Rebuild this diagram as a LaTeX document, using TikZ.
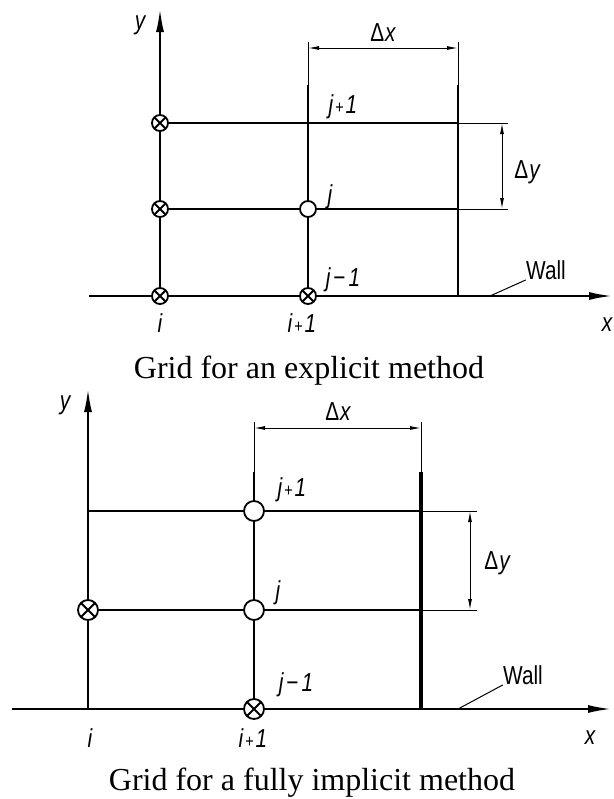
\documentclass[tikz,border=0pt]{standalone}
\usepackage{fontspec}
\setmainfont{Liberation Serif}
\newfontfamily\lettering{Liberation Sans}[FakeStretch=0.8]
\usetikzlibrary{arrows.meta}
\tikzset{
  mesh/.style={line width=1pt},
  wallline/.style={line width=1.7pt},
  axis/.style={line width=1.2pt,-{Latex[length=12pt,width=4pt]}},
  dim/.style={line width=0.5pt,{Latex[length=5.5pt,width=2pt]}-{Latex[length=5.5pt,width=2pt]}},
  ext/.style={line width=0.5pt},
  lbl/.style={font=\lettering\itshape\fontsize{13}{15}\selectfont,inner sep=0pt},
  caption/.style={font=\fontsize{16}{19}\selectfont,inner sep=0pt},
  unknown/.style={circle,draw,line width=0.9pt,fill=white,inner sep=0pt,minimum size=#1},
  unknown/.default=8pt,
  known/.style={unknown=#1,
    path picture={\draw[line width=0.9pt]
      (path picture bounding box.north west) -- (path picture bounding box.south east)
      (path picture bounding box.north east) -- (path picture bounding box.south west);}},
  known/.default=8pt,
}
\newcommand{\dx}{{\upshape Δ}\kern0.5pt x}
\newcommand{\dy}{{\upshape Δ}\kern0.5pt y}
\newcommand{\nplus}[1]{#1\kern1pt{\upshape\small+}\kern1pt1}
\newcommand{\nminus}[1]{#1\kern1.5pt{\upshape −}\kern1.5pt1}
\begin{document}
\begin{tikzpicture}[x=0.5pt,y=-0.5pt]
\useasboundingbox (0,0) rectangle (614,799);

% explicit method
\coordinate (e-xs) at (89,296);
\coordinate (e-xe) at (613,296);
\coordinate (e-yt) at (160,8);
\coordinate (e-00) at (160,296);
\coordinate (e-01) at (160,209);
\coordinate (e-02) at (160,123);
\coordinate (e-10) at (308,296);
\coordinate (e-11) at (308,209);
\coordinate (e-1t) at (308,85);
\coordinate (e-1d) at (308,42);
\coordinate (e-w0) at (458,296);
\coordinate (e-wt) at (458,85);
\coordinate (e-wd) at (458,42);
\coordinate (e-w1) at (458,209);
\coordinate (e-w2) at (458,123);
\coordinate (e-r1) at (508,209);
\coordinate (e-r2) at (508,123);
\coordinate (e-lead) at (490,296);

\draw[axis] (e-xs) -- (e-xe);
\draw[axis] (e-00) -- (e-yt);
\draw[mesh] (e-10) -- (e-1t);
\draw[mesh] (e-w0) -- (e-wt);
\draw[mesh] (e-02) -- (e-w2);
\draw[mesh] (e-01) -- (e-w1);
\draw[ext] (e-1t) -- (e-1d) (e-wt) -- (e-wd);
\draw[ext] (e-w2) -- (e-r2) (e-w1) -- (e-r1);
\draw[dim] ([yshift=-3pt]e-1d) -- ([yshift=-3pt]e-wd);
\draw[dim] ([xshift=-3pt]e-r2) -- ([xshift=-3pt]e-r1);

\node[known] (e-p00) at (e-00) {};
\node[known] (e-p01) at (e-01) {};
\node[known] (e-p02) at (e-02) {};
\node[known] (e-p10) at (e-10) {};
\node[unknown] (e-p11) at (e-11) {};

\node[lbl] (e-ylab) at (140,25) {y};
\node[lbl] (e-xlab) at (607,325) {x};
\node[lbl] (e-i) at (160,323) {i};
\node[lbl] (e-ip) at (302,323) {\nplus{i}};
\node[lbl] (e-jp) at (343,107) {\nplus{j}};
\node[lbl] (e-j) at (330,197) {j};
\node[lbl] (e-jm) at (343,280) {\nminus{j}};
\node[lbl] (e-dx) at (383,33) {\dx};
\node[lbl] (e-dy) at (527,172) {\dy};
\node[lbl,font=\lettering\fontsize{13}{15}\selectfont] (e-wall) at (546,270) {Wall};
\draw[ext] (e-lead) -- (e-wall.south west);

\node[caption] (e-cap) at (309,371) {Grid for an explicit method};

% fully implicit method
\coordinate (f-xs) at (12,709);
\coordinate (f-xe) at (612,709);
\coordinate (f-yt) at (88,388);
\coordinate (f-00) at (88,709);
\coordinate (f-01) at (88,610);
\coordinate (f-02) at (88,511);
\coordinate (f-10) at (254,709);
\coordinate (f-11) at (254,610);
\coordinate (f-12) at (254,511);
\coordinate (f-1t) at (254,472);
\coordinate (f-1d) at (254,422);
\coordinate (f-w0) at (421,709);
\coordinate (f-wt) at (421,472);
\coordinate (f-wd) at (421,422);
\coordinate (f-w1) at (421,610);
\coordinate (f-w2) at (421,511);
\coordinate (f-r1) at (477,610);
\coordinate (f-r2) at (477,511);
\coordinate (f-lead) at (458,709);

\draw[axis] (f-xs) -- (f-xe);
\draw[axis] (f-00) -- (f-yt);
\draw[mesh] (f-10) -- (f-1t);
\draw[wallline] (f-w0) -- (f-wt);
\draw[mesh] (f-02) -- (f-w2);
\draw[mesh] (f-01) -- (f-w1);
\draw[ext] (f-1t) -- (f-1d) (f-wt) -- (f-wd);
\draw[ext] (f-w2) -- (f-r2) (f-w1) -- (f-r1);
\draw[dim] ([yshift=-3pt]f-1d) -- ([yshift=-3pt]f-wd);
\draw[dim] ([xshift=-3.5pt]f-r2) -- ([xshift=-3.5pt]f-r1);

\node[known=10pt] (f-p01) at (f-01) {};
\node[known=10pt] (f-p10) at (f-10) {};
\node[unknown=10pt] (f-p11) at (f-11) {};
\node[unknown=10pt] (f-p12) at (f-12) {};

\node[lbl] (f-ylab) at (65,405) {y};
\node[lbl] (f-xlab) at (590,738) {x};
\node[lbl] (f-i) at (90,738) {i};
\node[lbl] (f-ip) at (253,738) {\nplus{i}};
\node[lbl] (f-jp) at (292,490) {\nplus{j}};
\node[lbl] (f-j) at (278,593) {j};
\node[lbl] (f-jm) at (296,685) {\nminus{j}};
\node[lbl] (f-dx) at (338,412) {\dx};
\node[lbl] (f-dy) at (497,563) {\dy};
\node[lbl,font=\lettering\fontsize{13}{15}\selectfont] (f-wall) at (523,675) {Wall};
\draw[ext] (f-lead) -- (f-wall.south west);

\node[caption] (f-cap) at (312,783) {Grid for a fully implicit method};
\end{tikzpicture}
\end{document}
